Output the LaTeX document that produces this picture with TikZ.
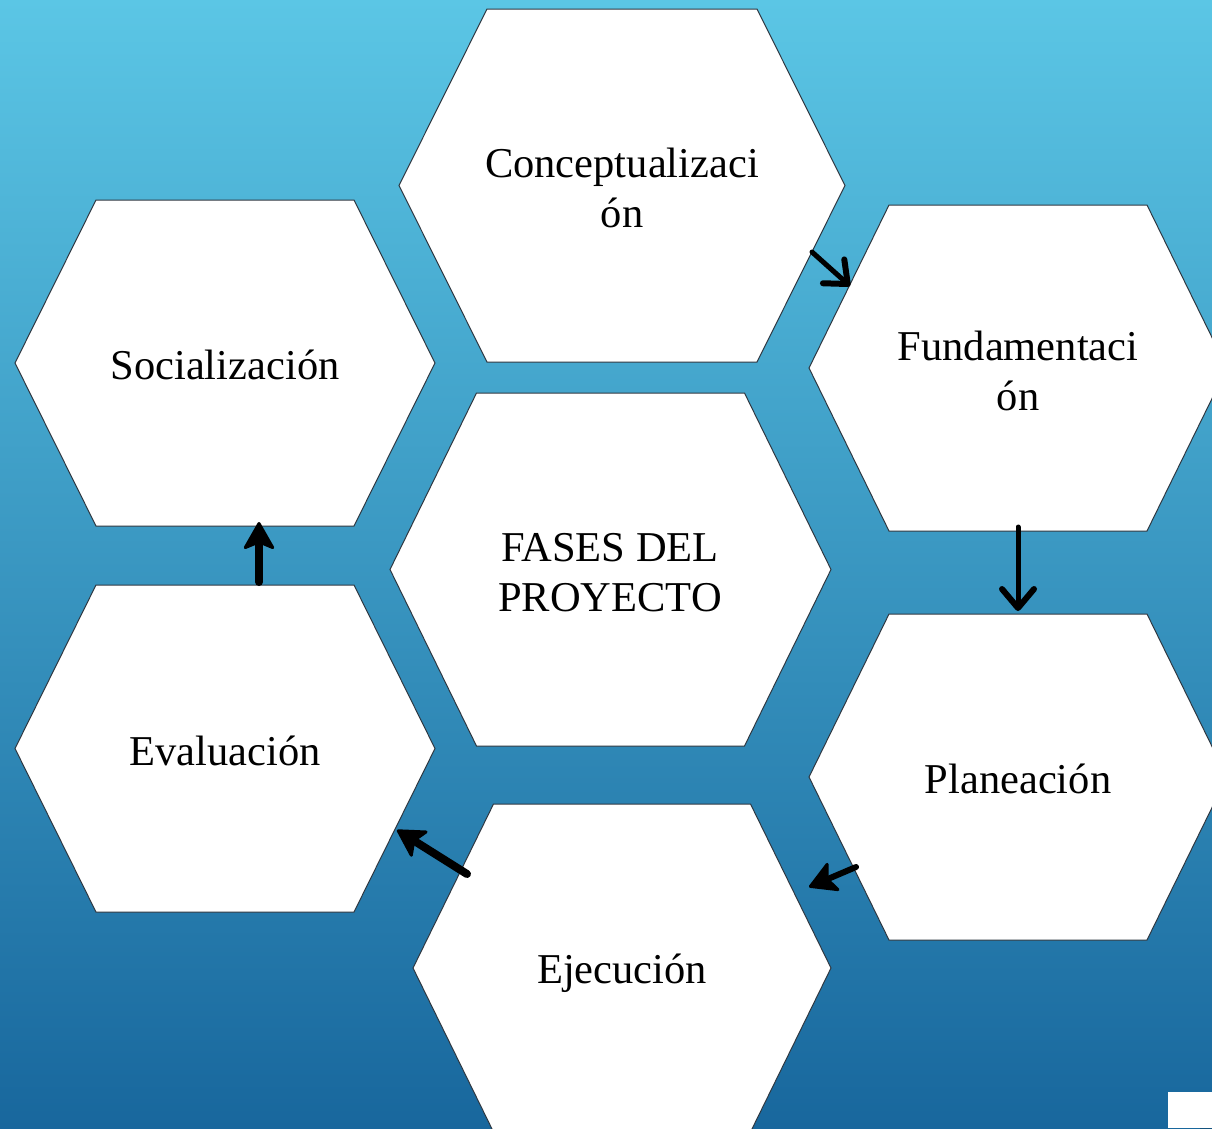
\documentclass[tikz,border=0pt]{standalone}
\usepackage{fontspec}
\setmainfont{Liberation Serif}
\usetikzlibrary{arrows.meta}
\definecolor{bgtop}{RGB}{91,198,229}
\definecolor{bgbot}{RGB}{24,103,157}
\definecolor{hexline}{RGB}{45,55,65}
\newcommand\hexpath[5]{%
  ({#1-#3},{#2}) -- ({#1-#4},{#2-#5}) -- ({#1+#4},{#2-#5}) -- ({#1+#3},{#2}) --
  ({#1+#4},{#2+#5}) -- ({#1-#4},{#2+#5}) -- cycle}
\tikzset{
  hexbox/.style={fill=white, draw=hexline, line width=1pt},
  label/.style={align=center, font=\fontsize{42.5}{50}\selectfont, inner sep=0pt},
  thinarrow/.style={line width=5pt, line cap=round, -{Straight Barb[round, length=19pt, width=32pt, line width=6pt]}},
  thickarrow/.style={line width=8pt, line cap=round, -{Stealth[round, length=30pt, width=34pt, inset=7pt, line width=3pt]}}
}
\begin{document}
\begin{tikzpicture}[x=1pt, y=-1pt]
\useasboundingbox (0,0) rectangle (1212,1128);
\shade[top color=bgtop, bottom color=bgbot] (0,0) rectangle (1212,1128);

% hexagons
\path[hexbox] \hexpath{622}{185.5}{223}{135}{176.5};
\path[hexbox] \hexpath{1018}{368}{209}{129}{163};
\path[hexbox] \hexpath{225}{363}{210}{129}{163};
\path[hexbox] \hexpath{610.5}{569.5}{220.5}{134}{176.5};
\path[hexbox] \hexpath{1018}{777}{209}{129}{163};
\path[hexbox] \hexpath{225}{748.5}{210}{129}{163.5};
\path[hexbox] \hexpath{622}{968}{209}{128.5}{164};

% labels
\node[label] (concept) at (622,188) {Conceptualizaci\\ón};
\node[label] (fund) at (1018,371) {Fundamentaci\\ón};
\node[label] (social) at (225,365) {Socialización};
\node[label] (fases) at (610,573) {FASES DEL\\PROYECTO};
\node[label] (plan) at (1018,779) {Planeación};
\node[label] (eval) at (225,751) {Evaluación};
\node[label] (ejec) at (622,973) {Ejecución};

% connector end points
\coordinate (a1s) at (812,252); \coordinate (a1e) at (850,286);
\coordinate (a2s) at (1018,527); \coordinate (a2e) at (1018,611);
\coordinate (a3s) at (856,867); \coordinate (a3e) at (809,887);
\coordinate (a4s) at (467,874); \coordinate (a4e) at (397,830);
\coordinate (a5s) at (259,582); \coordinate (a5e) at (259,522);

\draw[thinarrow] (a1s) -- (a1e);
\draw[thinarrow] (a2s) -- (a2e);
\draw[thickarrow, line width=6pt] (a3s) -- (a3e);
\draw[thickarrow] (a4s) -- (a4e);
\draw[thickarrow] (a5s) -- (a5e);

% corner patch
\fill[white] (1168,1092) rectangle (1212,1128);
\fill[bgbot!80!black] (1200,1128) arc[start angle=180, end angle=90, radius=8] -- (1212,1128) -- cycle;
\end{tikzpicture}
\end{document}
